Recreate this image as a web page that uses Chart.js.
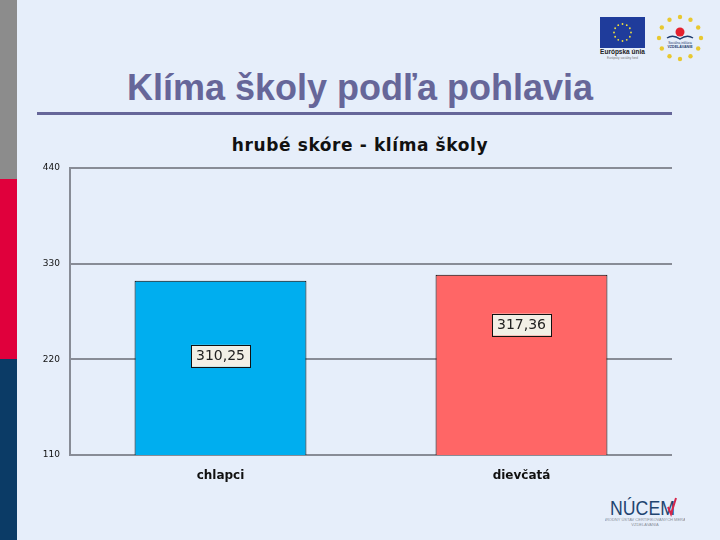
<!DOCTYPE html>
<html lang="sk">
<head>
  <meta charset="UTF-8">
  <title>Klíma školy podľa pohlavia</title>
  <script src="https://cdn.jsdelivr.net/npm/chart.js"></script>
  <style>
    html, body { margin: 0; padding: 0; }
    body { width: 720px; height: 540px; background: #E6EEFA; position: relative; overflow: hidden; font-family: "Liberation Sans", Arial, sans-serif; }
    .strip { position: absolute; left: 0; width: 17px; }
    .title { position: absolute; left: 0; width: 720px; top: 66px; text-align: center; font-size: 36px; font-weight: bold; color: #666699; line-height: 44px; }
    .rule { position: absolute; left: 37px; width: 635px; top: 112px; height: 3px; background: #666699; }
    .chart-title { position: absolute; left: 0; width: 720px; top: 134px; text-align: center; font-family: "DejaVu Sans", Verdana, sans-serif; font-size: 17px; letter-spacing: 0.6px; font-weight: bold; color: #111; line-height: 22px; }
    #chartWrap { position: absolute; left: 0; top: 0; width: 720px; height: 540px; }
    svg { position: absolute; }
  </style>
</head>
<body>
  <div class="strip" style="top:0;height:179px;background:#8C8C8C"></div>
  <div class="strip" style="top:179px;height:180px;background:#E0003C"></div>
  <div class="strip" style="top:359px;height:181px;background:#0B3B66"></div>

  <div class="title">Klíma školy podľa pohlavia</div>
  <div class="rule"></div>
  <div class="chart-title">hrubé skóre - klíma školy</div>

  <!-- EU logo -->
  <svg style="left:598px;top:14px" width="50" height="46" viewBox="0 0 50 46">
    <rect x="2" y="3" width="45" height="31" fill="#1F3C9B"/>
    <g fill="#F4E23A" id="stars"></g>
    <text x="24.5" y="40" font-size="6.5" font-weight="bold" text-anchor="middle" fill="#222" font-family="Liberation Sans">Európska únia</text>
    <text x="24.5" y="45" font-size="3" text-anchor="middle" fill="#777" font-family="Liberation Sans">Európsky sociálny fond</text>
  </svg>
  <!-- OP logo -->
  <svg style="left:655px;top:13px" width="50" height="50" viewBox="0 0 50 50">
    <g fill="#E8C830" id="stars2"></g>
    <circle cx="25" cy="19" r="4.5" fill="#E4202E"/>
    <path d="M12 25 Q18 21 25 26 Q32 21 38 25" stroke="#1F3C6E" stroke-width="1.5" fill="none"/>
    <text x="25" y="31" font-size="3.2" text-anchor="middle" fill="#1F3C6E" font-family="Liberation Sans">Sociálna inklúzia</text>
    <text x="25" y="35" font-size="3.6" font-weight="bold" text-anchor="middle" fill="#1F3C6E" font-family="Liberation Sans">VZDELÁVANIE</text>
  </svg>
  <!-- NUCEM logo -->
  <svg style="left:605px;top:494px" width="80" height="36" viewBox="0 0 80 36">
    <text x="5" y="21" font-size="21" textLength="65" lengthAdjust="spacingAndGlyphs" fill="#1F4470" font-family="Liberation Sans">NÚCEM</text>
    <path d="M63 13 L66 20 L71 4" stroke="#D7264B" stroke-width="2" fill="none"/>
    <text x="40" y="27" font-size="4" text-anchor="middle" fill="#8A8F99" font-family="Liberation Sans">NÁRODNÝ ÚSTAV CERTIFIKOVANÝCH MERANÍ</text>
    <text x="40" y="32" font-size="4" text-anchor="middle" fill="#8A8F99" font-family="Liberation Sans">VZDELÁVANIA</text>
  </svg>

  <div id="chartWrap"><canvas id="chart" width="720" height="540"></canvas></div>

  <script>
    // data
    const categories = ['chlapci', 'dievčatá'];
    const scores = [310.25, 317.36];
    const scoreLabels = ['310,25', '317,36'];
    const yTicks = [110, 220, 330, 440];

    // stars around the logos
    function ring(id, cx, cy, r, n, size) {
      const g = document.getElementById(id);
      for (let i = 0; i < n; i++) {
        const a = i / n * Math.PI * 2;
        const c = document.createElementNS('http://www.w3.org/2000/svg', 'circle');
        c.setAttribute('cx', cx + r * Math.cos(a));
        c.setAttribute('cy', cy + r * Math.sin(a));
        c.setAttribute('r', size);
        g.appendChild(c);
      }
    }
    ring('stars', 24.5, 18.5, 8.5, 12, 0.9);
    ring('stars2', 25, 25, 21, 12, 2.2);

    // boxed value labels inside bars
    const valueBoxes = {
      id: 'valueBoxes',
      afterDatasetsDraw(chart, args, opts) {
        const ctx = chart.ctx;
        const meta = chart.getDatasetMeta(0);
        ctx.save();
        ctx.font = '14px "DejaVu Sans", Verdana, sans-serif';
        ctx.textAlign = 'center';
        ctx.textBaseline = 'middle';
        meta.data.forEach((bar, i) => {
          const text = scoreLabels[i];
          const y = bar.y + opts.offsets[i];
          const w = ctx.measureText(text).width + 10;
          const h = 22;
          ctx.fillStyle = '#F2EFE6';
          ctx.fillRect(bar.x - w / 2, y - h / 2, w, h);
          ctx.strokeStyle = '#111';
          ctx.lineWidth = 1;
          ctx.strokeRect(Math.round(bar.x - w / 2) + 0.5, Math.round(y - h / 2) + 0.5, Math.round(w), h);
          ctx.fillStyle = '#222';
          ctx.fillText(text, bar.x, y + 1);
        });
        ctx.restore();
      }
    };

    new Chart(document.getElementById('chart'), {
      type: 'bar',
      data: {
        labels: categories,
        datasets: [{
          data: scores,
          backgroundColor: ['#00AEEF', '#FF6666'],
          borderColor: '#000',
          borderWidth: 1,
          categoryPercentage: 1,
          barPercentage: 0.571
        }]
      },
      options: {
        responsive: false,
        animation: false,
        layout: { padding: { left: 0, top: 168, right: 48, bottom: 55 } },
        plugins: {
          legend: { display: false },
          tooltip: { enabled: false },
          valueBoxes: { offsets: [75, 50] }
        },
        scales: {
          x: {
            grid: { display: false },
            border: { display: false },
            ticks: { color: '#111', padding: 6, font: { family: 'DejaVu Sans', size: 12, weight: 'bold' } },
            afterFit(scale) { scale.height = 30; }
          },
          y: {
            min: 110,
            max: 440,
            afterBuildTicks(scale) { scale.ticks = yTicks.map(v => ({ value: v })); },
            grid: { color: '#888C96', lineWidth: 2, drawTicks: false },
            border: { display: true, color: '#888C96', width: 2 },
            ticks: { color: '#111', padding: 10, font: { family: 'DejaVu Sans', size: 9 } },
            afterFit(scale) { scale.width = 70; }
          }
        }
      },
      plugins: [valueBoxes]
    });
  </script>
</body>
</html>
